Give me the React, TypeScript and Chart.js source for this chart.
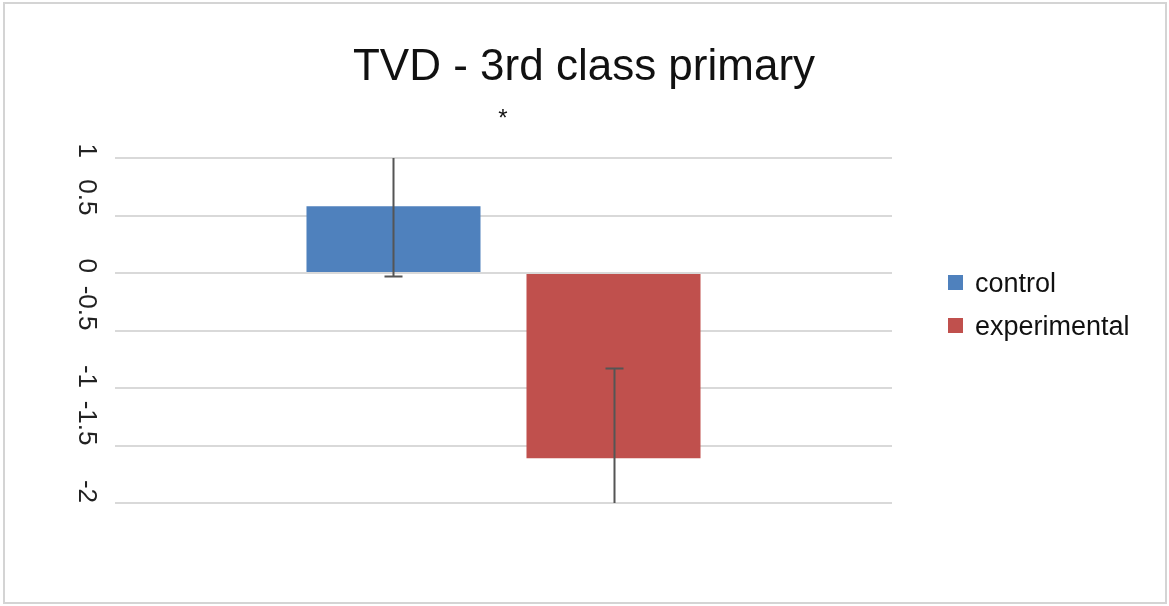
import React, { useEffect, useRef } from "react";
import { Chart, registerables } from "chart.js";

Chart.register(...registerables);

const categories = [""];
const seriesNames = ["control", "experimental"];
const controlValues = [0.58];
const experimentalValues = [-1.61];
const controlErrors = [0.61];
const experimentalErrors = [0.78];
const yTickValues = [1, 0.5, 0, -0.5, -1, -1.5, -2];
const yTickLabels = ["1", "0.5", "0", "-0.5", "-1", "-1.5", "-2"];
const titleText = "TVD - 3rd class primary";
const significanceMark = "*";

const seriesColors = ["#4f81bd", "#c0504d"];
const FONT = "'Liberation Sans', Arial, sans-serif";

const decorPlugin = {
  id: "decor",
  beforeDraw(chart: any) {
    const ctx = chart.ctx;
    ctx.save();
    ctx.fillStyle = "#ffffff";
    ctx.fillRect(0, 0, chart.width, chart.height);
    ctx.strokeStyle = "#d4d4d4";
    ctx.lineWidth = 2;
    ctx.strokeRect(4, 3, 1162, 600);
    ctx.restore();
  },
  afterDatasetsDraw(chart: any) {
    const ctx = chart.ctx;
    const y = chart.scales.y;
    const min = y.min;
    const max = y.max;
    ctx.save();
    ctx.strokeStyle = "#555555";
    ctx.lineWidth = 2;
    chart.data.datasets.forEach((ds: any, i: number) => {
      const meta = chart.getDatasetMeta(i);
      meta.data.forEach((bar: any, j: number) => {
        const v = ds.data[j];
        const e = ds.errors[j];
        const hi = v + e;
        const lo = v - e;
        const yHi = y.getPixelForValue(Math.min(hi, max));
        const yLo = y.getPixelForValue(Math.max(lo, min));
        const x = Math.round(bar.x) + 0.5;
        ctx.beginPath();
        ctx.moveTo(x, yHi);
        ctx.lineTo(x, yLo);
        if (hi <= max) {
          ctx.moveTo(x - 9, yHi);
          ctx.lineTo(x + 9, yHi);
        }
        if (lo >= min) {
          ctx.moveTo(x - 9, yLo);
          ctx.lineTo(x + 9, yLo);
        }
        ctx.stroke();
      });
    });
    ctx.restore();
  },
  afterDraw(chart: any) {
    const ctx = chart.ctx;
    const y = chart.scales.y;
    ctx.save();
    // title
    ctx.fillStyle = "#111111";
    ctx.font = `44px ${FONT}`;
    ctx.textAlign = "center";
    ctx.textBaseline = "alphabetic";
    ctx.fillText(titleText, 584, 80);
    ctx.font = `24px ${FONT}`;
    ctx.fillText(significanceMark, 503, 126);
    // y tick labels (rotated)
    ctx.font = `26px ${FONT}`;
    ctx.fillStyle = "#222222";
    yTickValues.forEach((v, k) => {
      const py = y.getPixelForValue(v);
      ctx.save();
      ctx.translate(79, py);
      ctx.rotate(Math.PI / 2);
      ctx.textAlign = "right";
      ctx.textBaseline = "alphabetic";
      ctx.fillText(yTickLabels[k], 0, 0);
      ctx.restore();
    });
    // legend
    ctx.font = `27px ${FONT}`;
    ctx.textAlign = "left";
    ctx.textBaseline = "alphabetic";
    const baselines = [292, 335];
    seriesNames.forEach((name, k) => {
      ctx.fillStyle = seriesColors[k];
      ctx.fillRect(948, baselines[k] - 17, 15, 15);
      ctx.fillStyle = "#111111";
      ctx.fillText(name, 975, baselines[k]);
    });
    ctx.restore();
  },
};

export default function App() {
  const canvasRef = useRef<HTMLCanvasElement | null>(null);

  useEffect(() => {
    document.body.style.margin = "0";
    const canvas = canvasRef.current;
    if (!canvas) return;
    const chart = new Chart(canvas, {
      type: "bar",
      data: {
        labels: categories,
        datasets: [
          {
            label: seriesNames[0],
            data: controlValues,
            backgroundColor: seriesColors[0],
            errors: controlErrors,
          } as any,
          {
            label: seriesNames[1],
            data: experimentalValues,
            backgroundColor: seriesColors[1],
            errors: experimentalErrors,
          } as any,
        ],
      },
      options: {
        responsive: false,
        animation: false,
        devicePixelRatio: 1,
        layout: { padding: { left: 115, right: 277, top: 158, bottom: 103 } },
        datasets: {
          bar: { categoryPercentage: 0.5663, barPercentage: 0.791 },
        } as any,
        scales: {
          x: { display: false },
          y: {
            min: -2,
            max: 1,
            ticks: { display: false, stepSize: 0.5 },
            grid: { color: "#d9d9d9", lineWidth: 2, drawTicks: false },
            border: { display: false },
            afterFit: (scale: any) => {
              scale.width = 0;
            },
          },
        },
        plugins: {
          legend: { display: false },
          title: { display: false },
          tooltip: { enabled: false },
        },
      },
      plugins: [decorPlugin],
    });
    return () => chart.destroy();
  }, []);

  return (
    <div style={{ position: "fixed", left: 0, top: 0, width: 1169, height: 606 }}>
      <canvas ref={canvasRef} width={1169} height={606} />
    </div>
  );
}
